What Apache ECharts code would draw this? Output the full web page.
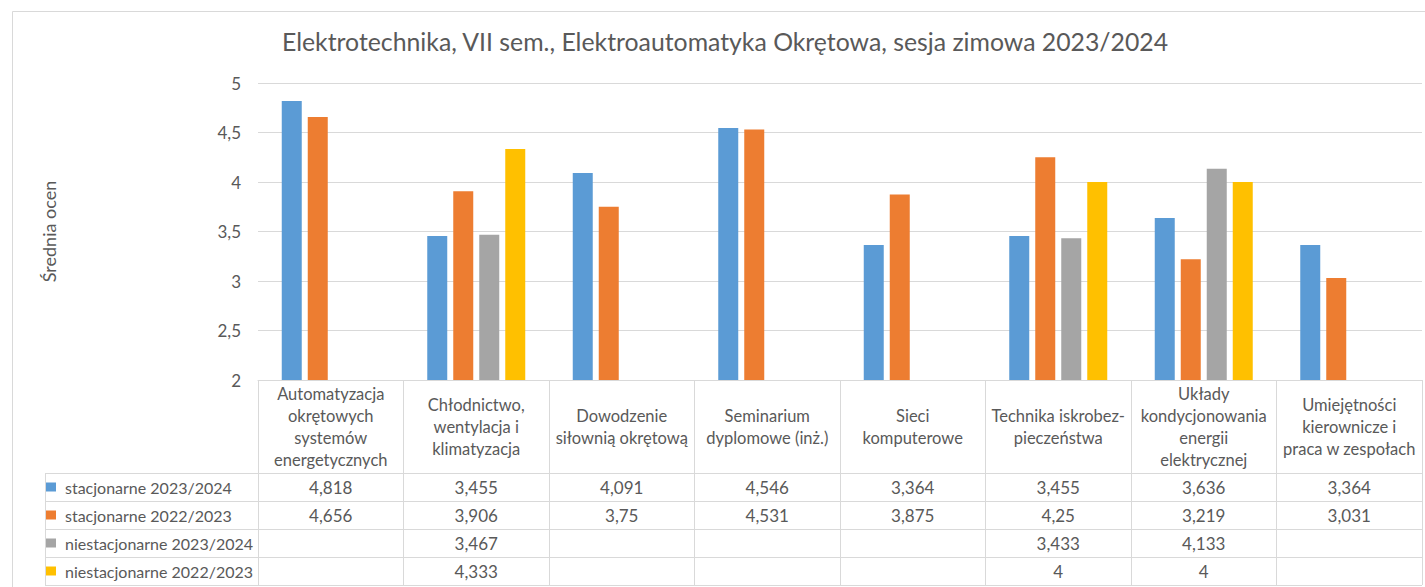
<!DOCTYPE html>
<html>
<head>
<meta charset="utf-8">
<script src="https://cdn.jsdelivr.net/npm/echarts@6/dist/echarts.min.js"></script>
<style>
html,body{margin:0;padding:0;background:#fff;}
#c{width:1425px;height:587px;}
</style>
</head>
<body>
<div id="c"></div>
<script>
const titleText = 'Elektrotechnika, VII sem., Elektroautomatyka Okrętowa, sesja zimowa 2023/2024';
const yAxisName = 'Średnia ocen';
const categories = [
  'Automatyzacja\nokrętowych\nsystemów\nenergetycznych',
  'Chłodnictwo,\nwentylacja i\nklimatyzacja',
  'Dowodzenie\nsiłownią okrętową',
  'Seminarium\ndyplomowe (inż.)',
  'Sieci\nkomputerowe',
  'Technika iskrobez-\npieczeństwa',
  'Układy\nkondycjonowania\nenergii\nelektrycznej',
  'Umiejętności\nkierownicze i\npraca w zespołach'
];
const seriesNames = ['stacjonarne 2023/2024', 'stacjonarne 2022/2023', 'niestacjonarne 2023/2024', 'niestacjonarne 2022/2023'];
const stac2324 = [4.818, 3.455, 4.091, 4.546, 3.364, 3.455, 3.636, 3.364];
const stac2223 = [4.656, 3.906, 3.75, 4.531, 3.875, 4.25, 3.219, 3.031];
const niest2324 = [null, 3.467, null, null, null, 3.433, 4.133, null];
const niest2223 = [null, 4.333, null, null, null, 4, 4, null];
const yMin = 2, yMax = 5, yInterval = 0.5;

const seriesValues = [stac2324, stac2223, niest2324, niest2223];
const colors = ['#5B9BD5', '#ED7D31', '#A5A5A5', '#FFC000'];
const FONT = 'Lato';
const TXT = '#595959';
const LINE = '#d9d9d9';

// layout
const gridLeft = 258, gridRight = 1422, gridTop = 83, gridBottom = 380;
const headerBottom = 473, rowH = 28, tableLeft = 45;
const W = 1425, H = 587;

const fmt = v => (v === null || v === undefined) ? '' : String(v).replace('.', ',');

const xAxes = [{
  type: 'category',
  data: categories,
  position: 'bottom',
  axisLine: { show: true, lineStyle: { color: LINE, width: 1 } },
  axisTick: { show: true, inside: false, length: 585 - gridBottom, interval: 0, lineStyle: { color: LINE } },
  axisLabel: {
    interval: 0, margin: (headerBottom - gridBottom) / 2, verticalAlign: 'middle',
    fontFamily: FONT, fontSize: 16.5, lineHeight: 22, color: TXT, align: 'center'
  }
}];
seriesValues.forEach((vals, k) => {
  xAxes.push({
    type: 'category',
    data: vals.map(fmt),
    position: 'bottom',
    axisLine: { show: false },
    axisTick: { show: false },
    axisLabel: {
      interval: 0, margin: headerBottom - gridBottom + rowH * k + rowH / 2, verticalAlign: 'middle',
      fontFamily: FONT, fontSize: 17, color: TXT
    }
  });
});

const graphicEls = [];
for (let k = 0; k <= 4; k++) {
  const y = headerBottom + rowH * k + 0.5;
  graphicEls.push({ type: 'line', shape: { x1: tableLeft, y1: y, x2: gridRight, y2: y }, style: { stroke: LINE, lineWidth: 1 }, silent: true });
}
graphicEls.push({ type: 'line', shape: { x1: tableLeft + 0.5, y1: headerBottom, x2: tableLeft + 0.5, y2: headerBottom + rowH * 4 }, style: { stroke: LINE, lineWidth: 1 }, silent: true });
graphicEls.push({ type: 'rect', shape: { x: 12.5, y: 11.5, width: W, height: H }, style: { fill: 'none', stroke: LINE, lineWidth: 1 }, silent: true, z: -1 });

const chart = echarts.init(document.getElementById('c'), null, { renderer: 'svg' });
chart.setOption({
  animation: false,
  backgroundColor: '#fff',
  color: colors,
  title: {
    text: titleText,
    left: 720, top: 24, textAlign: 'center',
    textStyle: { fontFamily: FONT, fontSize: 24.8, fontWeight: 'normal', color: TXT }
  },
  legend: {
    data: seriesNames,
    orient: 'vertical',
    left: 46, top: headerBottom, height: rowH * 4 + 4,
    padding: 0,
    itemWidth: 10, itemHeight: 9, itemGap: 0,
    icon: 'rect',
    selectedMode: false,
    textStyle: { fontFamily: FONT, fontSize: 16, color: TXT, lineHeight: rowH, padding: [0, 0, 0, 4] }
  },
  grid: { left: gridLeft, right: W - gridRight, top: gridTop, bottom: H - gridBottom, containLabel: false },
  xAxis: xAxes,
  yAxis: {
    type: 'value', min: yMin, max: yMax, interval: yInterval,
    name: yAxisName, nameLocation: 'middle', nameGap: 200, nameRotate: 90,
    nameTextStyle: { fontFamily: FONT, fontSize: 18, color: TXT },
    axisLine: { show: false }, axisTick: { show: false },
    splitLine: { lineStyle: { color: LINE, width: 1 } },
    axisLabel: { fontFamily: FONT, fontSize: 17, color: TXT, margin: 17, formatter: v => fmt(v) }
  },
  series: seriesValues.map((vals, k) => ({
    name: seriesNames[k],
    type: 'bar',
    xAxisIndex: 0,
    data: vals,
    barWidth: 20,
    barGap: '30%',
    itemStyle: { color: colors[k] }
  })),
  graphic: graphicEls
});
</script>
</body>
</html>
